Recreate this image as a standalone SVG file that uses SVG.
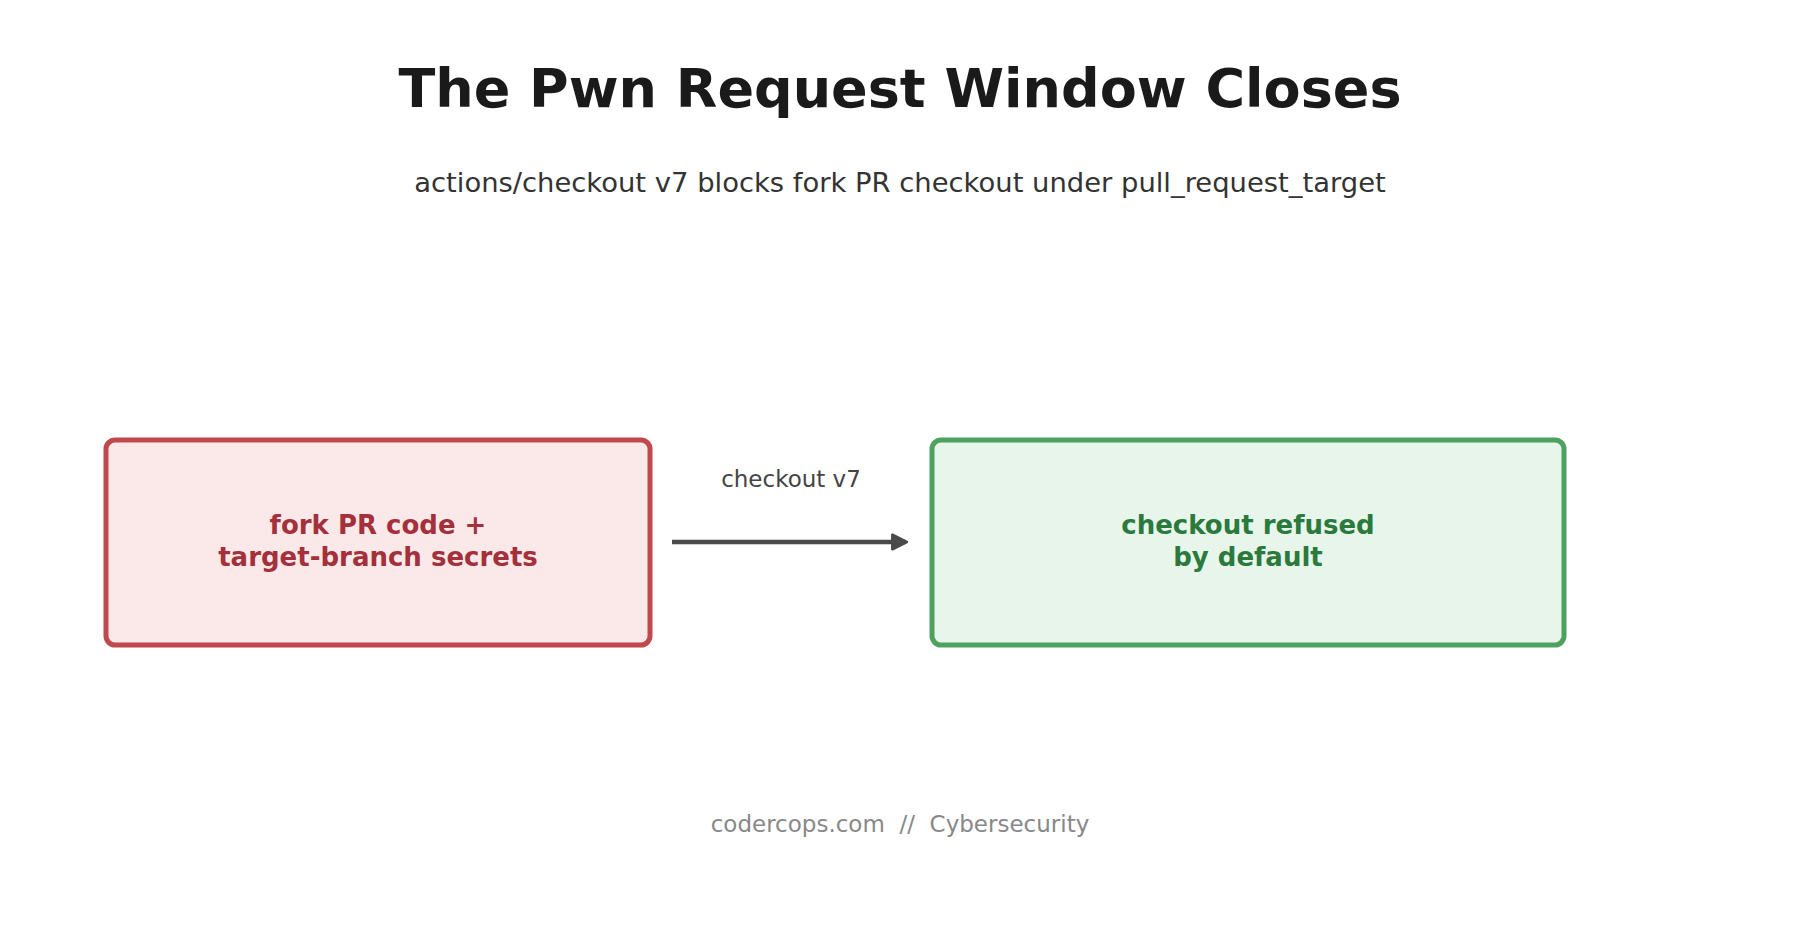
<svg xmlns="http://www.w3.org/2000/svg" width="1800" height="945" viewBox="0 0 1800 945">
<style>
text{font-family:"DejaVu Sans",sans-serif;text-anchor:middle}
.box{stroke-width:5}
.bt{font-size:26px;font-weight:bold}
</style>
<defs><marker id="ah" viewBox="0 0 10 10" refX="8" refY="5" markerWidth="4" markerHeight="4" orient="auto"><path d="M1,1L9,5L1,9z" fill="#4a4a4a" stroke="#4a4a4a" stroke-width="1.5" stroke-linejoin="round"/></marker></defs>
<rect width="1800" height="945" fill="#fff"/>
<text x="900" y="107" font-size="54" font-weight="bold" fill="#1a1a1a">The Pwn Request Window Closes</text>
<text x="900" y="192" font-size="27.4" fill="#333">actions/checkout v7 blocks fork PR checkout under pull_request_target</text>
<g id="left"><rect class="box" x="106" y="440" width="544" height="205" rx="9" fill="#fbe9e9" stroke="#c0494e"/>
<text class="bt" x="378" y="534" fill="#a3303a">fork PR code +</text><text class="bt" x="378" y="566" fill="#a3303a">target-branch secrets</text></g>
<g id="right"><rect class="box" x="932" y="440" width="632" height="205" rx="9" fill="#e8f5ea" stroke="#4ea260"/>
<text class="bt" x="1248" y="534" fill="#2b7a3d">checkout refused</text><text class="bt" x="1248" y="566" fill="#2b7a3d">by default</text></g>
<g id="connectors"><line x1="672" y1="542" x2="905" y2="542" stroke="#4a4a4a" stroke-width="4.5" marker-end="url(#ah)"/>
<text x="791" y="487" font-size="23" fill="#444">checkout v7</text></g>
<text x="900" y="832" font-size="23" fill="#888" xml:space="preserve">codercops.com  //  Cybersecurity</text>
</svg>
